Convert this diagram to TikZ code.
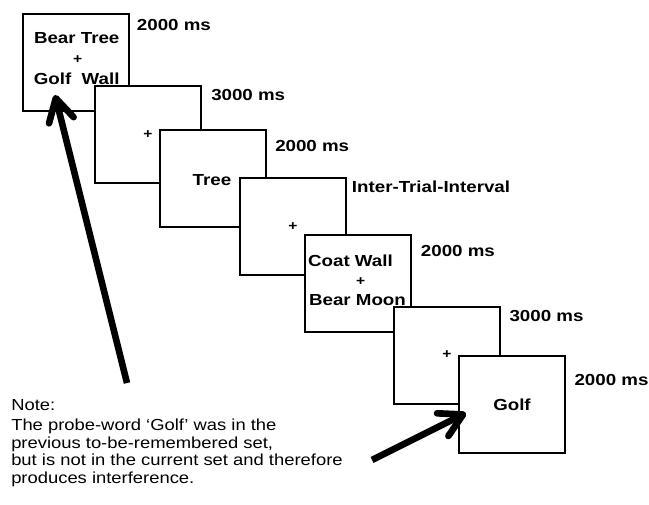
\documentclass[tikz,border=0pt]{standalone}
\usepackage{fontspec}
\setmainfont{Liberation Sans}
\newfontfamily\wordfont[FakeStretch=1.17]{Liberation Sans}
\newfontfamily\notefont[FakeStretch=1.15]{Liberation Sans}
\usetikzlibrary{arrows.meta}
\tikzset{screen/.style={draw,line width=1.5pt,fill=white,minimum width=79.5pt,minimum height=72.75pt,inner sep=0pt},
  word/.style={font=\wordfont\bfseries\fontsize{12pt}{13pt}\selectfont,inner sep=0pt,anchor=base},
  fix/.style={font=\wordfont\bfseries\fontsize{10pt}{10pt}\selectfont,inner sep=0pt},
  dur/.style={font=\wordfont\bfseries\fontsize{12pt}{13pt}\selectfont,inner sep=0pt,anchor=base west},
  probe/.style={line width=5pt,-{Straight Barb[length=17pt,width=19pt,round]}}}

\begin{document}
\begin{tikzpicture}[x=0.75pt,y=-0.75pt]
      \useasboundingbox (0,0) rectangle (649,504);
      \node[screen] (b1) at (75.5,62) {};
      \node[word] (w1) at (76.7,43.3) {Bear Tree};
      \node[fix] (f1) at (77.7,60) {+};
      \node[word] (w2) at (76.7,84) {Golf\ \ Wall};
      \node[screen] (b2) at (148.2,134.7) {};
      \node[fix] (f2) at (148,135) {+};
      \node[screen] (b3) at (212.8,178.3) {};
      \node[word] (w3) at (212,185) {Tree};
      \node[screen] (b4) at (293.2,226.7) {};
      \node[fix] (f4) at (293,227) {+};
      \node[screen] (b5) at (358.3,283) {};
      \node[word] (w5) at (350.5,266) {Coat Wall};
      \node[fix] (f5) at (360.7,281.7) {+};
      \node[word] (w6) at (357.5,305.7) {Bear Moon};
      \node[screen] (b6) at (446.7,355.5) {};
      \node[fix] (f6) at (447,355) {+};
      \node[screen] (b7) at (511.5,404.3) {};
      \node[word] (w7) at (512,410.7) {Golf};

      \node[dur] (d1) at (136.7,30.7) {2000 ms};
      \node[dur] (d2) at (211,100) {3000 ms};
      \node[dur] (d3) at (275,151.7) {2000 ms};
      \node[dur] (d4) at (351.7,192.7) {Inter-Trial-Interval};
      \node[dur] (d5) at (420.7,256.7) {2000 ms};
      \node[dur] (d6) at (509.3,321) {3000 ms};
      \node[dur] (d7) at (574.3,385) {2000 ms};

      \node[anchor=north west,align=left,inner sep=0pt,font=\notefont\fontsize{12pt}{13.2pt}\selectfont] (note) at (11,399.3)
        {Note:\\[1.8pt]The probe-word ‘Golf’ was in the\\previous to-be-remembered set,\\but is not in the current set and therefore\\produces interference.};

      \coordinate (p1) at (127,383);
      \coordinate (q1) at (55,95);
      \coordinate (p2) at (372,460);
      \coordinate (q2) at (466,413);
\foreach \a/\b in {p1/q1,p2/q2}
  \draw[probe] (\a) -- (\b);
    \end{tikzpicture}
\end{document}
